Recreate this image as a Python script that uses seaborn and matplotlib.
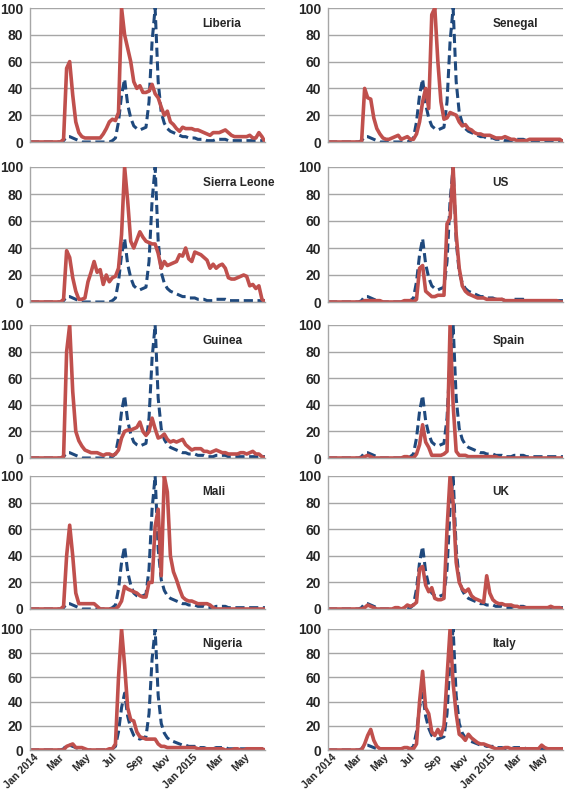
import pandas as pd
import matplotlib
matplotlib.use("Agg")
import matplotlib.pyplot as plt
import matplotlib.dates as mdates
from matplotlib.transforms import ScaledTranslation
import seaborn as sns

# weekly search interest, Jan 2014 - Jun 2015 (78 weeks, peak = 100)
weeks = pd.date_range("2014-01-01", periods=78, freq="7D")

world = [0, 0, 0, 0, 0, 0, 0, 0, 0, 0, 0, 1, 4, 4, 3, 2, 1, 0, 0, 0,
         0, 0, 0, 0, 0, 0, 0, 1, 3, 15, 35, 47, 28, 18, 12, 10, 9, 10, 11, 30,
         75, 100, 45, 22, 14, 10, 8, 7, 6, 5, 4, 4, 3, 3, 3, 2, 2, 2, 1, 1,
         1, 2, 2, 2, 2, 1, 1, 1, 1, 1, 1, 1, 1, 1, 1, 1, 1, 1]

liberia = [0, 0, 0, 0, 0, 0, 0, 0, 0, 0, 0, 2, 55, 60, 35, 15, 7, 4, 3, 3,
           3, 3, 3, 3, 6, 10, 15, 17, 16, 22, 100, 80, 70, 60, 45, 40, 42, 37, 37, 38,
           43, 36, 33, 26, 20, 23, 15, 13, 10, 8, 11, 10, 10, 10, 9, 9, 8, 7, 6, 5,
           7, 7, 7, 8, 9, 7, 5, 4, 4, 4, 4, 4, 5, 3, 3, 7, 4, 0]

sierra_leone = [0, 0, 0, 0, 0, 0, 0, 0, 0, 0, 0, 2, 38, 33, 18, 8, 2, 2, 3, 15,
                22, 30, 22, 24, 13, 20, 15, 18, 19, 25, 50, 100, 75, 45, 40, 46, 52, 48, 45, 44,
                43, 43, 36, 25, 30, 27, 28, 29, 30, 35, 34, 40, 32, 30, 37, 36, 35, 33, 31, 25,
                28, 25, 27, 28, 25, 18, 17, 17, 18, 19, 20, 19, 12, 13, 10, 12, 2, 0]

guinea = [0, 0, 0, 0, 0, 0, 0, 0, 0, 0, 0, 1, 80, 100, 50, 20, 13, 9, 6, 5,
          4, 4, 4, 3, 2, 3, 3, 2, 3, 6, 15, 20, 21, 21, 22, 23, 27, 20, 17, 20,
          30, 22, 15, 16, 18, 14, 12, 13, 12, 13, 14, 10, 8, 6, 7, 7, 7, 5, 5, 4,
          5, 6, 5, 4, 4, 3, 3, 3, 3, 4, 4, 3, 4, 5, 3, 3, 1, 0]

mali = [0, 0, 0, 0, 0, 0, 0, 0, 0, 0, 0, 2, 40, 63, 40, 12, 4, 4, 4, 4,
        4, 4, 2, 0, 0, 0, 0, 0, 0, 2, 6, 17, 15, 14, 13, 12, 10, 9, 9, 20,
        20, 62, 75, 25, 100, 88, 40, 28, 22, 15, 9, 7, 6, 6, 5, 4, 4, 4, 4, 3,
        1, 0, 0, 0, 0, 0, 0, 0, 0, 0, 0, 0, 0, 0, 0, 0, 0, 0]

nigeria = [0, 0, 0, 0, 0, 0, 0, 0, 0, 0, 0, 0, 3, 4, 5, 2, 2, 2, 1, 0,
           0, 0, 0, 0, 0, 0, 1, 1, 5, 60, 100, 70, 35, 25, 24, 15, 11, 10, 9, 9,
           9, 9, 5, 3, 3, 2, 2, 2, 2, 2, 2, 2, 2, 2, 2, 1, 1, 1, 1, 1,
           1, 1, 1, 1, 0, 0, 0, 1, 1, 0, 0, 1, 1, 1, 1, 1, 1, 0]

senegal = [0, 0, 0, 0, 0, 0, 0, 0, 0, 0, 0, 0, 40, 33, 32, 18, 10, 6, 3, 2,
           2, 3, 4, 5, 2, 3, 4, 2, 2, 6, 15, 30, 40, 25, 95, 100, 60, 30, 17, 18,
           22, 21, 20, 15, 12, 13, 10, 9, 7, 6, 6, 5, 5, 5, 4, 3, 3, 3, 4, 3,
           2, 2, 1, 1, 1, 1, 2, 2, 2, 2, 2, 2, 2, 2, 2, 2, 2, 0]

us = [0, 0, 0, 0, 0, 0, 0, 0, 0, 0, 0, 0, 1, 1, 1, 1, 1, 1, 0, 0,
      0, 0, 0, 0, 0, 1, 1, 1, 0, 2, 25, 27, 8, 6, 4, 4, 5, 5, 5, 58,
      62, 100, 50, 25, 12, 8, 6, 5, 4, 3, 3, 3, 2, 2, 2, 2, 2, 2, 1, 1,
      1, 1, 1, 1, 1, 1, 1, 1, 1, 1, 1, 1, 1, 1, 1, 1, 0, 0]

spain = [0, 0, 0, 0, 0, 0, 0, 0, 0, 0, 0, 0, 1, 2, 1, 0, 0, 0, 0, 0,
         0, 0, 0, 0, 0, 1, 1, 0, 0, 3, 10, 25, 12, 8, 2, 2, 2, 2, 3, 5,
         100, 40, 5, 2, 2, 2, 1, 1, 1, 1, 1, 1, 1, 1, 1, 1, 0, 0, 0, 0,
         0, 0, 0, 0, 0, 0, 0, 0, 0, 0, 0, 0, 0, 0, 0, 0, 0, 0]

uk = [0, 0, 0, 0, 0, 0, 0, 0, 0, 0, 0, 0, 1, 3, 2, 1, 0, 0, 0, 0,
      0, 0, 1, 1, 0, 1, 3, 2, 3, 5, 30, 32, 18, 13, 16, 8, 7, 7, 8, 60,
      100, 80, 35, 20, 15, 13, 15, 10, 8, 7, 6, 5, 25, 12, 7, 5, 4, 4, 3, 3,
      3, 2, 2, 1, 1, 1, 1, 1, 1, 1, 1, 1, 1, 2, 1, 1, 1, 0]

italy = [0, 0, 0, 0, 0, 0, 0, 0, 0, 0, 0, 0, 5, 12, 17, 8, 3, 1, 1, 1,
         1, 1, 1, 1, 1, 2, 2, 1, 1, 5, 40, 65, 35, 30, 15, 12, 17, 12, 20, 60,
         100, 55, 30, 13, 11, 8, 13, 10, 8, 6, 5, 5, 4, 3, 2, 1, 1, 1, 2, 2,
         1, 1, 1, 1, 1, 1, 1, 1, 1, 1, 4, 2, 1, 1, 1, 1, 1, 1]

left_countries = ["Liberia", "Sierra Leone", "Guinea", "Mali", "Nigeria"]
right_countries = ["Senegal", "US", "Spain", "UK", "Italy"]

tick_dates = ["2014-01-01", "2014-03-01", "2014-05-01", "2014-07-01", "2014-09-01",
              "2014-11-01", "2015-01-01", "2015-03-01", "2015-05-01"]
tick_labels = ["Jan 2014", "Mar", "May", "Jul", "Sep", "Nov", "Jan 2015", "Mar", "May"]

df = pd.DataFrame({"week": weeks, "world": world, "Liberia": liberia,
                   "Sierra Leone": sierra_leone, "Guinea": guinea, "Mali": mali,
                   "Nigeria": nigeria, "Senegal": senegal, "US": us, "Spain": spain,
                   "UK": uk, "Italy": italy})

sns.set_style("white")
plt.rcParams["font.family"] = ["Liberation Sans", "DejaVu Sans"]

W, H = 567, 791
fig = plt.figure(figsize=(W / 100, H / 100), dpi=100)

rows = [(8, 142), (167, 302), (325, 458), (476, 609), (629, 750)]
cols = [(30, 265, left_countries, 0.735), (328, 563, right_countries, 0.70)]

red = "#C0504D"
blue = "#1F497D"
grey = "#A6A6A6"
shift = ScaledTranslation(5 / 72, 0, fig.dpi_scale_trans)

for x0, x1, names, tx in cols:
    for i, (top, bottom) in enumerate(rows):
        ax = fig.add_axes([x0 / W, 1 - bottom / H, (x1 - x0) / W, (bottom - top) / H])
        sns.lineplot(data=df, x="week", y="world", ax=ax, color=blue, lw=2.2,
                     linestyle=(0, (3, 1.5)))
        sns.lineplot(data=df, x="week", y=names[i], ax=ax, color=red, lw=2.6)
        ax.set_ylim(0, 100)
        ax.set_xlim(pd.Timestamp("2014-01-01"), weeks[-1])
        ax.set_yticks(range(0, 101, 20))
        ax.yaxis.grid(True, color=grey, lw=1)
        ax.set_axisbelow(True)
        for s in ["top", "right"]:
            ax.spines[s].set_visible(False)
        for s in ["left", "bottom"]:
            ax.spines[s].set_color(grey)
            ax.spines[s].set_linewidth(1)
        ax.tick_params(axis="y", length=3, color=grey, labelsize=10, pad=2)
        for lab in ax.get_yticklabels():
            lab.set_fontweight("bold")
        ax.set_xlabel("")
        ax.set_ylabel("")
        ax.text(tx, 0.88, names[i], transform=ax.transAxes, fontsize=8.5,
                fontweight="bold", va="center", ha="left")
        ax.set_xticks(pd.to_datetime(tick_dates))
        if i == len(rows) - 1:
            ax.set_xticklabels(tick_labels, rotation=45, ha="right", va="center",
                               rotation_mode="anchor", fontsize=7.5, fontweight="bold")
            ax.xaxis.set_minor_locator(mdates.DayLocator(interval=7))
            ax.tick_params(axis="x", which="both", length=3, color=grey, pad=1)
            for lab in ax.get_xticklabels():
                lab.set_transform(lab.get_transform() + shift)
        else:
            ax.set_xticklabels([])
            ax.tick_params(axis="x", which="both", length=0)

fig.savefig("out.png", dpi=100)
